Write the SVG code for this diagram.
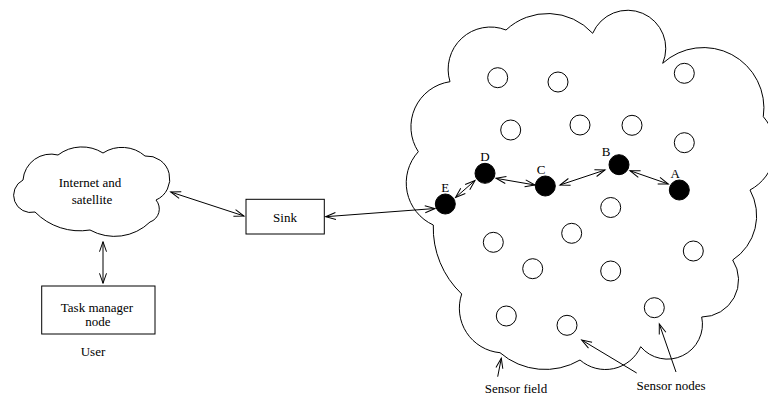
<svg xmlns="http://www.w3.org/2000/svg" width="768" height="398" viewBox="0 0 768 398">
<style>
.o{fill:none;stroke:#000;stroke-width:1}
.b{fill:#fff;stroke:#000;stroke-width:1}
.sn{fill:#fff;stroke:#000;stroke-width:1}
.fn{fill:#000;stroke:#000;stroke-width:1}
.t{font-family:"Liberation Serif","Times New Roman",serif;font-size:13px;fill:#000;text-anchor:middle}
.c{fill:none;stroke:#000;stroke-width:1}
.d{marker-start:url(#ah);marker-end:url(#ah)}
.s{marker-end:url(#ah)}
</style>
<defs>
<marker id="ah" markerUnits="userSpaceOnUse" markerWidth="12" markerHeight="8" refX="10" refY="3.5" orient="auto-start-reverse" overflow="visible">
<path d="M0,0 L10,3.5 L0,7" fill="none" stroke="#000" stroke-width="1"/>
</marker>
</defs>
<rect width="768" height="398" fill="#fff"/>
<g id="sensor-field">
<path class="o" d="M450,81.7 A42.3,42.3 0 0 1 506,30 A61,61 0 0 1 592.7,33.3 A38,38 0 0 1 662.7,63.3 A60.5,60.5 0 0 1 763.3,116.7 A47.5,47.5 0 0 1 750,190 A53,53 0 0 1 732.7,260 A37,37 0 0 1 701.7,317 A35,35 0 0 1 640.7,346.7 A38.7,38.7 0 0 1 580,360 A69,69 0 0 1 500,352.7 A44.6,44.6 0 0 1 461.7,294 A91,91 0 0 1 433.3,225 A46.3,46.3 0 0 1 418.3,151.7 A45.6,45.6 0 0 1 450,81.7 Z"/>
<text class="t" x="516" y="393">Sensor field</text>
</g>
<g id="sensor-nodes">
<circle class="sn" cx="497.7" cy="77.7" r="10"/>
<circle class="sn" cx="558" cy="82" r="10"/>
<circle class="sn" cx="684.3" cy="73.3" r="10"/>
<circle class="sn" cx="510.7" cy="130" r="10"/>
<circle class="sn" cx="580" cy="125" r="10"/>
<circle class="sn" cx="632" cy="125.3" r="10"/>
<circle class="sn" cx="684.3" cy="142.7" r="10"/>
<circle class="sn" cx="610.7" cy="207.5" r="10"/>
<circle class="sn" cx="571.7" cy="233.3" r="10"/>
<circle class="sn" cx="493.3" cy="242.3" r="10"/>
<circle class="sn" cx="693.3" cy="251" r="10"/>
<circle class="sn" cx="532.7" cy="268.7" r="10"/>
<circle class="sn" cx="610.7" cy="271" r="10"/>
<circle class="sn" cx="506.3" cy="316" r="10"/>
<circle class="sn" cx="567" cy="325.3" r="10"/>
<circle class="sn" cx="654.3" cy="307.7" r="10"/>
<text class="t" x="671" y="390">Sensor nodes</text>
</g>
<g id="node-A"><circle class="fn" cx="679.3" cy="190" r="10"/><text class="t" x="675.3" y="178">A</text></g>
<g id="node-B"><circle class="fn" cx="619" cy="164.7" r="10"/><text class="t" x="606" y="156">B</text></g>
<g id="node-C"><circle class="fn" cx="545.3" cy="186" r="10"/><text class="t" x="541" y="174">C</text></g>
<g id="node-D"><circle class="fn" cx="485" cy="173.3" r="10"/><text class="t" x="485" y="161">D</text></g>
<g id="node-E"><circle class="fn" cx="445.3" cy="204" r="10"/><text class="t" x="445.3" y="191.5">E</text></g>
<g id="internet">
<path class="o" d="M23,180 A28,28 0 0 1 58,155 A39.6,39.6 0 0 1 103,153 A35,35 0 0 1 145,156 A23,23 0 0 1 156,200 A13.8,13.8 0 0 1 150,222 A50.7,50.7 0 0 1 90,230 A63,63 0 0 1 35,212 A17.2,17.2 0 0 1 23,180 Z"/>
<text class="t" x="90" y="187">Internet and</text>
<text class="t" x="92" y="204">satellite</text>
</g>
<g id="sink">
<rect class="b" x="246" y="199.3" width="78.3" height="34.7"/>
<text class="t" x="285" y="222">Sink</text>
</g>
<g id="task-manager">
<rect class="b" x="41.7" y="286" width="113.3" height="48"/>
<text class="t" x="97" y="312">Task manager</text>
<text class="t" x="98" y="326">node</text>
<text class="t" x="93" y="356">User</text>
</g>
<g id="connectors">
<line class="c d" x1="170.7" y1="192" x2="244" y2="216"/>
<line class="c d" x1="103" y1="241.7" x2="103" y2="283.3"/>
<line class="c d" x1="325.7" y1="216.7" x2="435" y2="208.5"/>
<line class="c d" x1="455.5" y1="197.5" x2="475" y2="180.5"/>
<line class="c d" x1="496" y1="178.3" x2="535" y2="185"/>
<line class="c d" x1="560" y1="185" x2="605" y2="170"/>
<line class="c d" x1="630" y1="170.7" x2="668.3" y2="184"/>
<line class="c s" x1="497.7" y1="376.7" x2="501.3" y2="358.3"/>
<line class="c s" x1="636.7" y1="373" x2="581.7" y2="340"/>
<line class="c s" x1="676" y1="372" x2="659.3" y2="324"/>
</g>
</svg>
